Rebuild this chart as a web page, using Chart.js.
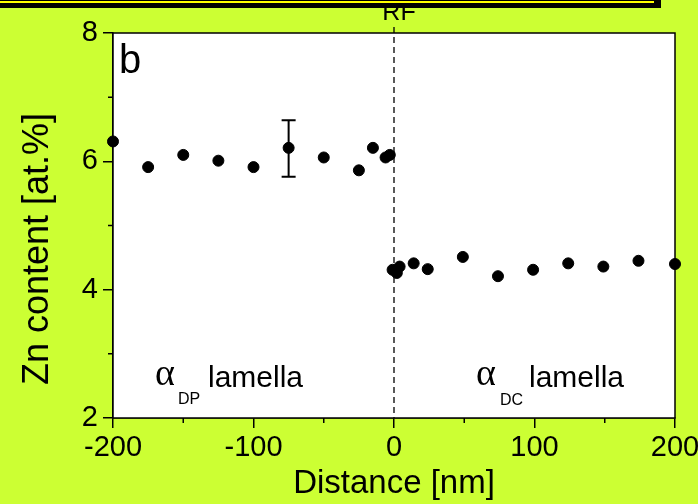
<!DOCTYPE html>
<html>
<head>
<meta charset="utf-8">
<script src="https://cdn.jsdelivr.net/npm/chart.js@4"></script>
<style>
  html, body { margin: 0; padding: 0; background: #ccff33; }
  #wrap { width: 698px; height: 504px; position: relative; }
</style>
</head>
<body>
<div id="wrap"><canvas id="c" width="698" height="504"></canvas></div>
<script>
// alpha_DP lamella (left of reaction front)
const dpDistance = [-200, -175, -150, -125, -100, -75, -50, -25, -15, -6, -3]
const dpZn = [6.31, 5.91, 6.10, 6.01, 5.91, 6.21, 6.06, 5.86, 6.21, 6.06, 6.10]
// alpha_DC lamella (right of reaction front)
const dcDistance = [-1, 2, 4, 14, 24, 49, 74, 99, 124, 149, 174, 200]
const dcZn = [4.31, 4.26, 4.36, 4.41, 4.32, 4.51, 4.21, 4.31, 4.41, 4.36, 4.45, 4.40]
// single error bar
const errX = [-75]
const errLow = [5.76]
const errHigh = [6.64]

const xTicks = [-200, -100, 0, 100, 200]
const xMinor = [-150, -50, 50, 150]
const yTicks = [2, 4, 6, 8]
const yMinor = [3, 5, 7]

const FONT = 'Liberation Sans, Arial, sans-serif'
const SERIF = 'Liberation Serif, Times New Roman, serif'

const extras = {
    id: 'extras',
    beforeDatasetsDraw(chart) {
        const a = chart.chartArea
        chart.ctx.save()
        chart.ctx.fillStyle = '#fff'
        chart.ctx.fillRect(a.left, a.top, a.right - a.left, a.bottom - a.top)
        chart.ctx.restore()
    },
    afterDatasetsDraw(chart) {
        const ctx = chart.ctx
        const xs = chart.scales.x
        const ys = chart.scales.y
        const a = chart.chartArea
        ctx.save()

        // frame
        ctx.strokeStyle = '#000'
        ctx.lineWidth = 1.5
        ctx.strokeRect(a.left, a.top, a.right - a.left, a.bottom - a.top)

        // minor ticks (shorter)
        ctx.beginPath()
        xMinor.forEach(v => {
            const px = xs.getPixelForValue(v)
            ctx.moveTo(px, a.bottom); ctx.lineTo(px, a.bottom + 5)
        })
        yMinor.forEach(v => {
            const py = ys.getPixelForValue(v)
            ctx.moveTo(a.left, py); ctx.lineTo(a.left - 5, py)
        })
        ctx.stroke()

        // error bar
        ctx.lineWidth = 2
        errX.forEach((x, i) => {
            const px = xs.getPixelForValue(x)
            const lo = ys.getPixelForValue(errLow[i])
            const hi = ys.getPixelForValue(errHigh[i])
            ctx.beginPath()
            ctx.moveTo(px, lo); ctx.lineTo(px, hi)
            ctx.moveTo(px - 7, lo); ctx.lineTo(px + 7, lo)
            ctx.moveTo(px - 7, hi); ctx.lineTo(px + 7, hi)
            ctx.stroke()
        })

        // reaction front dashed line
        const x0 = xs.getPixelForValue(0)
        ctx.lineWidth = 1.3
        ctx.setLineDash([6, 4])
        ctx.beginPath()
        ctx.moveTo(x0, 27)
        ctx.lineTo(x0, a.bottom)
        ctx.stroke()
        ctx.setLineDash([])

        // texts
        ctx.fillStyle = '#000'
        ctx.textBaseline = 'alphabetic'
        ctx.textAlign = 'center'
        ctx.font = '25px ' + FONT
        ctx.fillText('RF', x0 + 5, 20)

        ctx.textAlign = 'left'
        ctx.font = '40px ' + FONT
        ctx.fillText('b', a.left + 6, a.top + 40)

        ctx.font = '38px ' + SERIF
        ctx.fillText('α', 155, 385)
        ctx.fillText('α', 476, 385)
        ctx.font = '16px ' + FONT
        ctx.fillText('DP', 178, 404)
        ctx.fillText('DC', 500, 405)
        ctx.font = '30px ' + FONT
        ctx.fillText('lamella', 208, 387)
        ctx.fillText('lamella', 529, 387)

        // y axis title
        ctx.save()
        ctx.translate(38, 249)
        ctx.rotate(-Math.PI / 2)
        ctx.textAlign = 'center'
        ctx.textBaseline = 'middle'
        ctx.font = '36px ' + FONT
        ctx.fillText('Zn content [at.%]', 0, 0)
        ctx.restore()

        // cropped box at the top
        ctx.fillStyle = '#000'
        ctx.fillRect(0, 0, 661, 8)
        ctx.fillStyle = '#ffff00'
        ctx.fillRect(0, 1, 654, 2)
        ctx.restore()
    }
}

const axisTicks = {
    color: '#000',
    font: { family: FONT, size: 29 },
}

new Chart(document.getElementById('c'), {
    type: 'scatter',
    data: {
        datasets: [
            {
                label: 'DP',
                data: dpDistance.map((x, i) => ({ x: x, y: dpZn[i] })),
                backgroundColor: '#000',
                borderColor: '#000',
                pointRadius: 5.5,
            },
            {
                label: 'DC',
                data: dcDistance.map((x, i) => ({ x: x, y: dcZn[i] })),
                backgroundColor: '#000',
                borderColor: '#000',
                pointRadius: 5.5,
            }
        ]
    },
    options: {
        responsive: false,
        animation: false,
        clip: false,
        layout: { padding: { top: 33, right: 23, left: 0, bottom: 0 } },
        plugins: {
            legend: { display: false },
            tooltip: { enabled: false },
        },
        scales: {
            x: {
                type: 'linear',
                min: -200,
                max: 200,
                afterBuildTicks: (axis) => {
                    axis.ticks = xTicks.map(v => ({ value: v }))
                },
                ticks: {
                    ...axisTicks,
                    padding: 3,
                    maxRotation: 0,
                    autoSkip: false,
                },
                grid: { drawOnChartArea: false, tickLength: 10, color: '#000', lineWidth: 1.5 },
                border: { color: '#000', width: 1.5 },
                title: {
                    display: true,
                    text: 'Distance [nm]',
                    color: '#000',
                    font: { family: FONT, size: 33 },
                    padding: { top: 0, bottom: 0 },
                },
                afterFit: (axis) => {
                    axis.height = 86
                    axis.paddingLeft = 0
                    axis.paddingRight = 0
                },
            },
            y: {
                type: 'linear',
                min: 2,
                max: 8,
                afterBuildTicks: (axis) => {
                    axis.ticks = yTicks.map(v => ({ value: v }))
                },
                ticks: {
                    ...axisTicks,
                    padding: 5,
                    autoSkip: false,
                },
                grid: { drawOnChartArea: false, tickLength: 10, color: '#000', lineWidth: 1.5 },
                border: { color: '#000', width: 1.5 },
                afterFit: (axis) => {
                    axis.width = 113
                    axis.paddingTop = 0
                    axis.paddingBottom = 0
                },
            }
        }
    },
    plugins: [extras]
})
</script>
</body>
</html>
